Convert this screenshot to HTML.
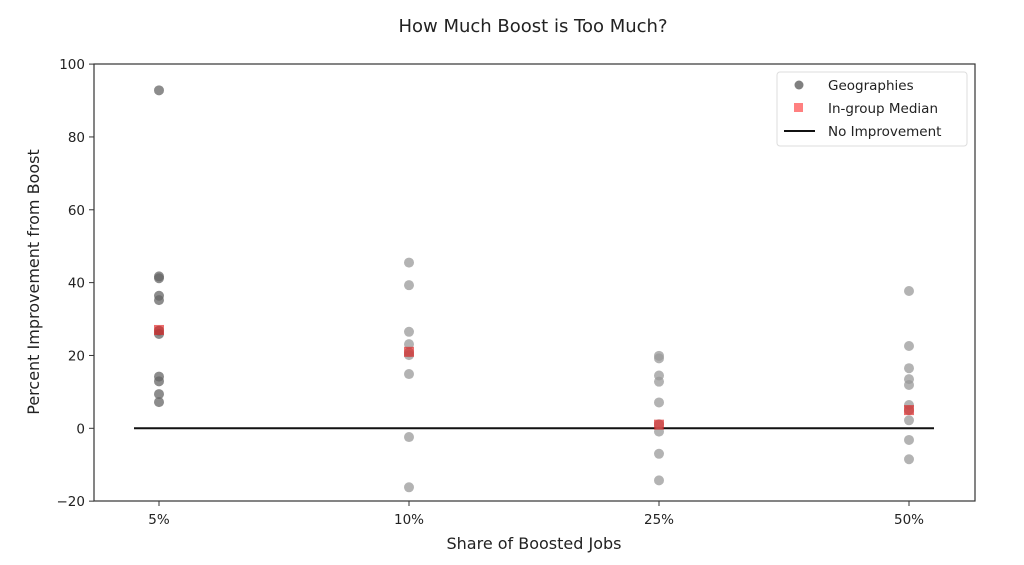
<!DOCTYPE html>
<html><head><meta charset="utf-8"><style>
body{margin:0;background:#fff;}
svg text{font-family:"DejaVu Sans","Liberation Sans",sans-serif;fill:#222;}
</style></head><body>
<svg id="chart" width="1024" height="560" xmlns="http://www.w3.org/2000/svg">
<text x="533" y="32" text-anchor="middle" font-size="18">How Much Boost is Too Much?</text>
<text x="534" y="549" text-anchor="middle" font-size="16">Share of Boosted Jobs</text>
<text transform="translate(39,282) rotate(-90)" text-anchor="middle" font-size="16">Percent Improvement from Boost</text>
<g id="ticks"></g>
<g id="marks"></g>
<rect x="94" y="64" width="881" height="437" fill="none" stroke="#333" stroke-width="1.2"/>
<g>
<rect x="777" y="72" width="190" height="74" rx="3" fill="#fff" stroke="#ddd"/>
<circle cx="799" cy="85" r="4.5" fill="#808080"/>
<text x="828" y="90" font-size="13.5">Geographies</text>
<rect x="794" y="103" width="9" height="9" fill="#ff8080"/>
<text x="828" y="113" font-size="13.5">In-group Median</text>
<line x1="784" y1="131" x2="815" y2="131" stroke="#111" stroke-width="2"/>
<text x="828" y="136" font-size="13.5">No Improvement</text>
</g>
</svg>
<script>
const categories=["5%","10%","25%","50%"];
const geo5=[92.8,41.7,41.2,36.4,35.2,26.8,25.9,14.2,12.9,9.4,7.2];
const geo10=[45.5,39.3,26.5,23.1,20.8,20.1,14.9,-2.4,-16.2];
const geo25=[19.9,19.2,14.5,12.8,7.1,1.1,-0.9,-7,-14.3];
const geo50=[37.7,22.6,16.5,13.5,11.9,6.4,5,2.2,-3.2,-8.5];
const medians=[27,21,1,5];
const yTicks=[-20,0,20,40,60,80,100];
const baseline=0;
const NS="http://www.w3.org/2000/svg";
const xS=i=>159+250*i;
const yS=v=>428.3-(v)*3.642;
const tg=document.getElementById('ticks'),mg=document.getElementById('marks');
function mk(tag,at,parent){const e=document.createElementNS(NS,tag);for(const k in at)e.setAttribute(k,at[k]);parent.appendChild(e);return e;}
yTicks.forEach(t=>{
 const l=mk('line',{x1:89,x2:94,y1:yS(t),y2:yS(t),stroke:'#333'},tg);
 
 
 const tx=mk('text',{x:85,y:yS(t)+5,'text-anchor':'end','font-size':13.5},tg);tx.textContent=String(t).replace('-','\u2212');
 
 
});
categories.forEach((c,i)=>{
 const l=mk('line',{x1:xS(i),x2:xS(i),y1:501,y2:506,stroke:'#333'},tg);
 
 
 const tx=mk('text',{x:xS(i),y:524,'text-anchor':'middle','font-size':13.5},tg);tx.textContent=c;
 
 
});
const zl=mk('line',{x1:xS(-0.1),x2:xS(3.1),y1:yS(baseline),y2:yS(baseline),stroke:'#111','stroke-width':2},mg);


const groups=[geo5,geo10,geo25,geo50];
const cols=['#666','#999','#999','#999'];
groups.forEach((g,i)=>g.forEach(v=>{
 const c=mk('circle',{cx:xS(i),cy:yS(v),r:5,fill:cols[i],'fill-opacity':0.75},mg);
 
 
}));
medians.forEach((v,i)=>{
 const r=mk('rect',{x:xS(i)-5,y:yS(v)-5,width:10,height:10,fill:'#e02020','fill-opacity':0.65},mg);
 
 
});
</script>
</body></html>
